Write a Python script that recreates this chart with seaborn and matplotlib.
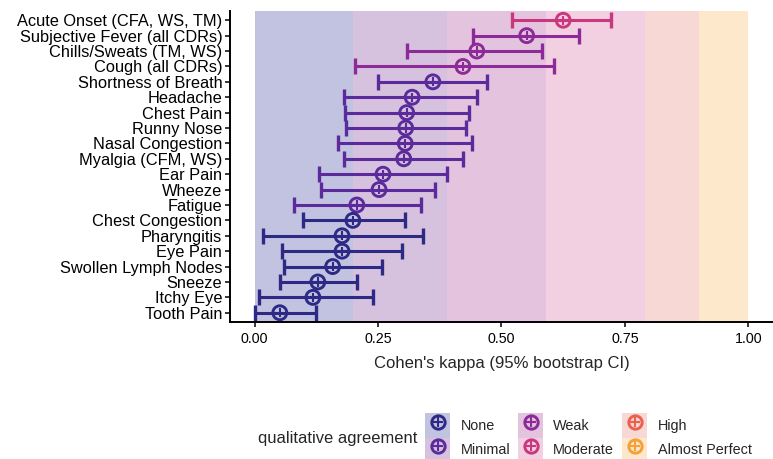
import numpy as np
import pandas as pd
import matplotlib
matplotlib.use("Agg")
import matplotlib.pyplot as plt
import seaborn as sns
from matplotlib.patches import Patch
from matplotlib.lines import Line2D
from matplotlib.legend_handler import HandlerTuple

# symptoms, top to bottom
symptoms = ["Acute Onset (CFA, WS, TM)", "Subjective Fever (all CDRs)", "Chills/Sweats (TM, WS)",
            "Cough (all CDRs)", "Shortness of Breath", "Headache", "Chest Pain", "Runny Nose",
            "Nasal Congestion", "Myalgia (CFM, WS)", "Ear Pain", "Wheeze", "Fatigue",
            "Chest Congestion", "Pharyngitis", "Eye Pain", "Swollen Lymph Nodes", "Sneeze",
            "Itchy Eye", "Tooth Pain"]
kappa = [0.625, 0.551, 0.450, 0.422, 0.361, 0.319, 0.308, 0.306, 0.305, 0.302,
         0.260, 0.252, 0.207, 0.199, 0.177, 0.177, 0.158, 0.128, 0.118, 0.051]
ci_low = [0.522, 0.442, 0.309, 0.204, 0.250, 0.181, 0.184, 0.186, 0.169, 0.182,
          0.131, 0.135, 0.079, 0.097, 0.016, 0.055, 0.060, 0.052, 0.008, 0.000]
ci_high = [0.722, 0.657, 0.582, 0.607, 0.471, 0.451, 0.435, 0.428, 0.441, 0.423,
           0.389, 0.366, 0.336, 0.304, 0.342, 0.298, 0.258, 0.207, 0.239, 0.125]
agreement = ["Moderate", "Weak", "Weak", "Weak", "Minimal", "Minimal", "Minimal", "Minimal",
             "Minimal", "Minimal", "Minimal", "Minimal", "Minimal", "None", "None", "None",
             "None", "None", "None", "None"]

levels = ["None", "Minimal", "Weak", "Moderate", "High", "Almost Perfect"]
level_edges = [0.0, 0.20, 0.39, 0.59, 0.79, 0.90, 1.00]

point_colors = ["#2d2a86", "#5b2b9b", "#8c2a97", "#c9387f", "#e9614f", "#f6a03a"]
band_colors = ["#c2c2e1", "#d6c1de", "#e4c3df", "#f3cfe2", "#f8d8d5", "#fde8cc"]
palette = dict(zip(levels, point_colors))

df = pd.DataFrame({"symptom": symptoms, "kappa": kappa, "lo": ci_low, "hi": ci_high,
                   "agreement": agreement})
df["pos"] = np.arange(len(df))[::-1]

sns.set_theme(style="ticks")
plt.rcParams["font.family"] = ["Liberation Sans", "DejaVu Sans"]

fig = plt.figure(figsize=(7.73, 4.59), dpi=100)
ax = fig.add_axes([0.2975, 0.2985, 0.7025, 0.6775])

# background agreement bands
for i, lev in enumerate(levels):
    ax.axvspan(level_edges[i], level_edges[i + 1], color=band_colors[i], lw=0, zorder=0)

# error bars per category
for lev, grp in df.groupby("agreement"):
    ax.errorbar(grp["kappa"], grp["pos"], xerr=[grp["kappa"] - grp["lo"], grp["hi"] - grp["kappa"]],
                fmt="none", ecolor=palette[lev], elinewidth=2.2, capsize=6, capthick=2.4, zorder=2)

# hollow circles
sns.scatterplot(data=df, x="kappa", y="pos", hue="agreement", palette=palette,
                s=100, marker="o", legend=False, ax=ax, zorder=3)
coll = ax.collections[-1]
coll.set_edgecolors(coll.get_facecolors())
coll.set_facecolors("none")
coll.set_linewidths(2.1)
# crosses inside
sns.scatterplot(data=df, x="kappa", y="pos", hue="agreement", palette=palette,
                s=45, marker="+", linewidth=1.5, legend=False, ax=ax, zorder=4)

ax.set_xlim(-0.05, 1.05)
ax.set_ylim(-0.6, len(df) - 0.4)
ax.set_yticks(df["pos"])
ax.set_yticklabels(df["symptom"], fontsize=11.8)
ax.set_xticks([0, 0.25, 0.5, 0.75, 1.0])
ax.set_xticklabels(["0.00", "0.25", "0.50", "0.75", "1.00"], fontsize=10.3)
ax.tick_params(axis="both", length=3.5, width=1.1, color="black", labelcolor="black", pad=2)
ax.tick_params(axis="x", pad=4)
ax.set_ylabel("")
ax.set_xlabel("Cohen's kappa (95% bootstrap CI)", fontsize=12, labelpad=7)
sns.despine(ax=ax)
for side in ["left", "bottom"]:
    ax.spines[side].set_linewidth(1.4)
    ax.spines[side].set_color("black")

# legend
handles = []
for lev, pc, bc in zip(levels, point_colors, band_colors):
    handles.append((Patch(facecolor=bc, edgecolor="none"),
                    Line2D([], [], marker="o", ms=9.6, mfc="none", mec=pc, mew=2.1, ls=""),
                    Line2D([], [], marker="+", ms=6.5, mec=pc, mew=1.5, ls="")))
fig.legend(handles, levels, handler_map={tuple: HandlerTuple(ndivide=1, pad=0)},
           loc="center left", bbox_to_anchor=(425 / 773, 1 - 437.5 / 459), ncol=3, frameon=False,
           handlelength=1.75, handleheight=2.2, labelspacing=0, columnspacing=0.55,
           handletextpad=0.7, borderpad=0, borderaxespad=0, fontsize=10.4)
fig.text(258 / 773, 1 - 438 / 459, "qualitative agreement", fontsize=11.9, va="center", ha="left")

plt.savefig("out.png", dpi=100)
